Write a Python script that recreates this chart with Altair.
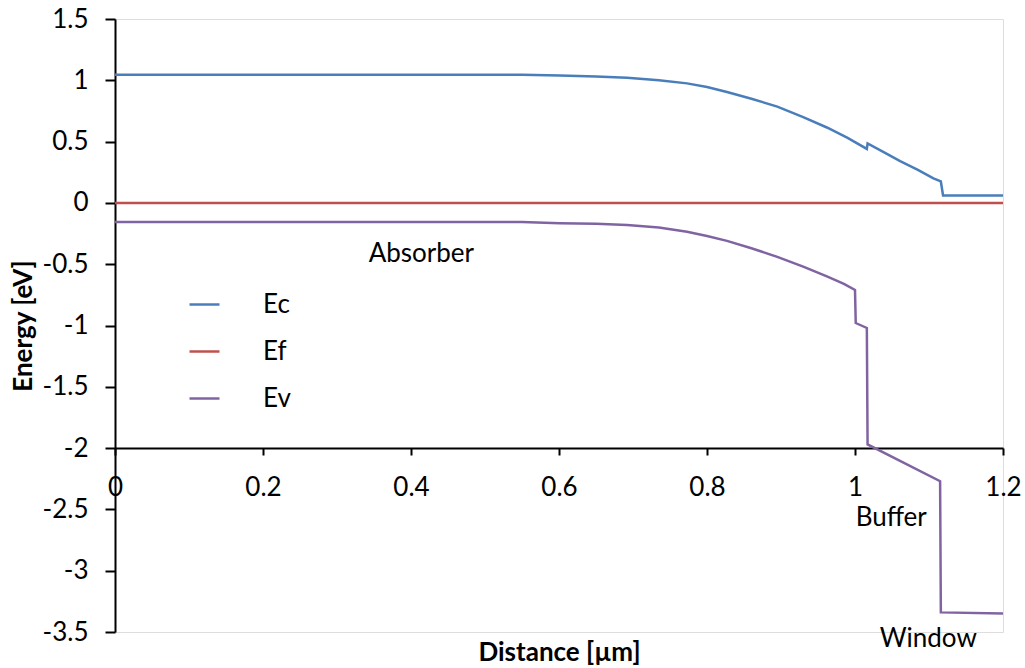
import altair as alt
import pandas as pd

# Series data
ec_x = [0.0, 0.55, 0.601, 0.65, 0.692, 0.735, 0.773, 0.80, 0.827, 0.86, 0.895, 0.93, 0.962, 0.99,
        1.016, 1.017, 1.04, 1.061, 1.085, 1.106, 1.116, 1.119, 1.2]
ec_y = [1.045, 1.045, 1.04, 1.03, 1.02, 1.0, 0.975, 0.945, 0.905, 0.85, 0.785, 0.70, 0.615, 0.53,
        0.44, 0.485, 0.41, 0.34, 0.27, 0.20, 0.175, 0.06, 0.06]

ef_x = [0.0, 1.2]
ef_y = [0.0, 0.0]

ev_x = [0.0, 0.55, 0.601, 0.65, 0.692, 0.735, 0.773, 0.80, 0.827, 0.86, 0.895, 0.93, 0.962, 0.985,
        1.0, 1.001, 1.016, 1.017, 1.115, 1.116, 1.2]
ev_y = [-0.155, -0.155, -0.165, -0.17, -0.18, -0.20, -0.235, -0.27, -0.31, -0.37, -0.44, -0.52, -0.60, -0.66,
        -0.71, -0.98, -1.02, -1.97, -2.27, -3.34, -3.35]

series_names = ["Ec", "Ef", "Ev"]
series_colors = ["#4A7EBB", "#C0504D", "#8064A2"]

ann_text = ["Absorber", "Buffer", "Window"]
ann_x = [0.414, 1.049, 1.099]
ann_y = [-0.417, -2.574, -3.557]

x_ticks = [0, 0.2, 0.4, 0.6, 0.8, 1, 1.2]
y_ticks = [1.5, 1, 0.5, 0, -0.5, -1, -1.5, -2, -2.5, -3, -3.5]

rows = []
for name, xs, ys in [("Ec", ec_x, ec_y), ("Ef", ef_x, ef_y), ("Ev", ev_x, ev_y)]:
    for i, (xv, yv) in enumerate(zip(xs, ys)):
        rows.append({"series": name, "x": xv, "y": yv, "order": i})
df = pd.DataFrame(rows)
ann = pd.DataFrame({"text": ann_text, "x": ann_x, "y": ann_y})

FONT = "Lato"
FS = 26

x_scale = alt.Scale(domain=[0, 1.2], nice=False, zero=False)
y_scale = alt.Scale(domain=[-3.5, 1.5], nice=False, zero=False)

lines = alt.Chart(df).mark_line(strokeWidth=2.5, clip=False).encode(
    x=alt.X("x:Q", scale=x_scale,
            axis=alt.Axis(values=x_ticks, labelExpr="datum.value + ''", offset=-184,
                          title="Distance [µm]", titleY=204, titleBaseline="middle",
                          titleFontWeight="bold", titleFontSize=FS, titleFont=FONT,
                          labelFont=FONT, labelFontSize=FS, labelColor="#000",
                          labelPadding=19, tickSize=7, tickColor="#000", domainColor="#000",
                          domainWidth=2, tickWidth=2, grid=False, labelFlush=False,
                          titleColor="#000")),
    y=alt.Y("y:Q", scale=y_scale,
            axis=alt.Axis(values=y_ticks, labelExpr="datum.value + ''",
                          title="Energy [eV]", titleFontWeight="bold", titleFontSize=FS,
                          titleFont=FONT, titleColor="#000", titlePadding=6,
                          labelFont=FONT, labelFontSize=FS, labelColor="#000",
                          labelPadding=17, tickSize=10, tickColor="#000", domainColor="#000",
                          domainWidth=2, tickWidth=2, grid=False, labelFlush=False)),
    color=alt.Color("series:N",
                    scale=alt.Scale(domain=series_names, range=series_colors),
                    legend=alt.Legend(orient="none", legendX=73, legendY=269, title=None,
                                      symbolType="stroke", symbolSize=900, symbolStrokeWidth=2.5,
                                      labelFont=FONT, labelFontSize=FS, labelColor="#000",
                                      labelOffset=42, rowPadding=17, padding=0)),
    order="order:Q",
)

texts = alt.Chart(ann).mark_text(font=FONT, fontSize=FS, color="#000", clip=False).encode(
    x=alt.X("x:Q", scale=x_scale),
    y=alt.Y("y:Q", scale=y_scale),
    text="text:N",
)

chart = alt.layer(lines, texts).properties(
    width=888, height=613,
    padding={"left": 115, "top": 19, "right": 22, "bottom": 36},
    autosize=alt.AutoSizeParams(type="none"),
).configure_view(stroke=None).configure(background="white")

chart.save("out.html", embed_options={"renderer": "svg", "actions": False})
